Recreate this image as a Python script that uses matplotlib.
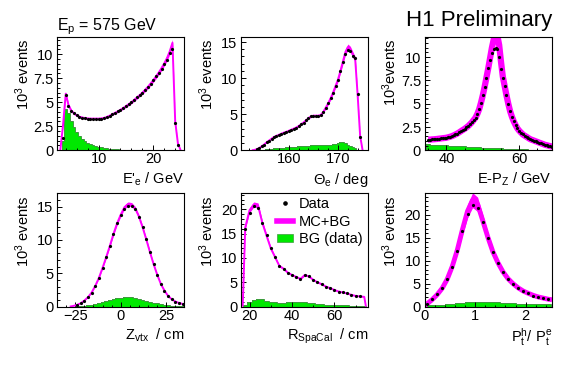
import numpy as np
import matplotlib
matplotlib.use('Agg')
import matplotlib.pyplot as plt
from matplotlib.ticker import AutoMinorLocator, FormatStrFormatter
from matplotlib.lines import Line2D
from matplotlib.patches import Patch

plt.rcParams['font.family'] = ['Liberation Sans', 'DejaVu Sans']
plt.rcParams['mathtext.fontset'] = 'custom'
plt.rcParams['mathtext.rm'] = 'Liberation Sans'
plt.rcParams['mathtext.it'] = 'Liberation Sans'
plt.rcParams['mathtext.default'] = 'rm'

MAGENTA = '#ff00ff'
GREEN = '#00e800'
GREEN_EDGE = '#3f9a3f'

# E'_e spectrum
ee_x = np.arange(3.5, 24.51, 0.5)
ee_data = [1.3, 5.8, 4.6, 4.1, 3.85, 3.65, 3.5, 3.4, 3.35, 3.3,
           3.3, 3.3, 3.28, 3.28, 3.3, 3.35, 3.45, 3.6, 3.75, 3.9,
           4.05, 4.2, 4.4, 4.6, 4.8, 5.0, 5.25, 5.5, 5.75, 6.0,
           6.3, 6.6, 6.95, 7.3, 7.7, 8.1, 8.5, 8.95, 9.45, 10.1,
           10.6, 2.8, 0.5]
ee_mc_x = np.arange(3.0, 25.01, 0.5)
ee_mc = [0.0, 2.6, 5.9, 4.7, 4.15, 3.85, 3.65, 3.5, 3.42, 3.36,
         3.32, 3.3, 3.3, 3.3, 3.3, 3.32, 3.37, 3.47, 3.6, 3.75,
         3.9, 4.05, 4.22, 4.4, 4.6, 4.8, 5.0, 5.25, 5.5, 5.75,
         6.0, 6.3, 6.6, 6.95, 7.3, 7.7, 8.1, 8.55, 9.05, 9.6,
         10.3, 11.2, 3.0, 0.7, 0.0]
ee_bg = [1.0, 4.35, 3.9, 3.0, 2.4, 1.9, 1.5, 1.2, 1.0, 0.8,
         0.65, 0.55, 0.45, 0.38, 0.3, 0.25, 0.2, 0.17, 0.14, 0.11,
         0.09, 0.07, 0.05, 0.04, 0.03, 0.02, 0.01, 0.01, 0.01, 0.01,
         0.01, 0.01, 0.01, 0.01, 0.01, 0.01, 0.01, 0.01, 0.01, 0.01,
         0.01, 0.01, 0.01]

# Theta_e
th_x = np.arange(153.5, 174.51, 0.5)
th_data = [0.15, 0.3, 0.55, 0.8, 1.1, 1.35, 1.6, 1.85, 2.0, 2.15,
           2.3, 2.45, 2.55, 2.7, 2.85, 3.0, 3.15, 3.35, 3.6, 3.85,
           4.15, 4.45, 4.7, 4.8, 4.8, 4.8, 4.9, 5.3, 5.9, 6.5,
           7.2, 8.0, 8.9, 9.8, 11.0, 12.3, 13.3, 13.9, 13.8, 13.1,
           12.8, 7.8, 1.9]
th_mc_x = np.arange(152.5, 175.01, 0.5)
th_mc = [0.0, 0.05, 0.15, 0.3, 0.55, 0.8, 1.1, 1.35, 1.6, 1.85,
         2.0, 2.15, 2.3, 2.45, 2.55, 2.7, 2.85, 3.0, 3.15, 3.35,
         3.6, 3.85, 4.15, 4.45, 4.7, 4.8, 4.8, 4.8, 4.9, 5.3,
         5.9, 6.5, 7.2, 8.0, 8.9, 9.8, 11.0, 12.3, 13.6, 14.3,
         14.0, 13.3, 12.6, 7.6, 2.0, 0.0]
th_bg = [0.02, 0.05, 0.08, 0.1, 0.13, 0.16, 0.2, 0.25, 0.28, 0.32,
         0.35, 0.38, 0.42, 0.45, 0.48, 0.5, 0.52, 0.55, 0.58, 0.6,
         0.63, 0.66, 0.7, 0.72, 0.72, 0.72, 0.72, 0.72, 0.73, 0.75,
         0.78, 0.82, 0.9, 1.0, 1.15, 1.1, 1.0, 0.8, 0.6, 0.4,
         0.25, 0.1, 0.0]

# E-Pz
epz_x = np.arange(35, 70.01, 0.5)
epz_data = [1.15, 1.15, 1.17, 1.18, 1.2, 1.22, 1.25, 1.27, 1.3, 1.32,
            1.35, 1.4, 1.45, 1.52, 1.6, 1.7, 1.8, 1.92, 2.05, 2.18,
            2.3, 2.45, 2.6, 2.8, 3.0, 3.25, 3.5, 3.9, 4.4, 5.1,
            5.9, 6.8, 7.8, 8.8, 9.7, 10.4, 10.9, 11.0, 10.9, 10.0,
            8.7, 7.8, 6.9, 5.9, 5.0, 4.2, 3.6, 3.1, 2.7, 2.35,
            2.1, 1.9, 1.7, 1.57, 1.45, 1.32, 1.2, 1.12, 1.05, 0.97,
            0.9, 0.82, 0.75, 0.68, 0.6, 0.55, 0.5, 0.45, 0.4, 0.35, 0.3]
epz_mc = [1.15, 1.15, 1.17, 1.18, 1.2, 1.22, 1.25, 1.27, 1.3, 1.32,
          1.35, 1.4, 1.45, 1.52, 1.6, 1.7, 1.8, 1.92, 2.05, 2.18,
          2.3, 2.45, 2.6, 2.8, 3.0, 3.25, 3.5, 3.9, 4.4, 5.1,
          5.9, 6.8, 7.8, 8.8, 9.9, 11.0, 11.9, 12.4, 12.3, 11.3,
          9.5, 7.9, 6.9, 5.9, 5.0, 4.2, 3.6, 3.1, 2.7, 2.35,
          2.1, 1.9, 1.7, 1.57, 1.45, 1.32, 1.2, 1.12, 1.05, 0.97,
          0.9, 0.82, 0.75, 0.68, 0.6, 0.55, 0.5, 0.45, 0.4, 0.35, 0.3]
epz_bg_x = np.arange(35, 70.01, 1.0)
epz_bg = [0.65, 0.62, 0.6, 0.57, 0.55, 0.52, 0.5, 0.47, 0.45, 0.43,
          0.42, 0.4, 0.38, 0.36, 0.33, 0.3, 0.28, 0.26, 0.24, 0.22,
          0.2, 0.18, 0.16, 0.15, 0.13, 0.12, 0.1, 0.09, 0.08, 0.06,
          0.05, 0.04, 0.03, 0.02, 0.02, 0.01]

# Z vertex
z_x = np.arange(-24, 34.01, 2)
z_data = [0.25, 0.5, 0.9, 1.4, 2.1, 3.1, 4.3, 5.8, 7.4, 9.1,
          10.9, 12.5, 13.8, 14.7, 15.1, 15.1, 14.6, 13.5, 11.9, 10.1,
          8.2, 6.4, 4.8, 3.4, 2.4, 1.6, 1.1, 0.75, 0.55, 0.4]
z_mc_x = np.arange(-28, 34.01, 2)
z_mc = [0.0, 0.1, 0.25, 0.5, 0.9, 1.4, 2.1, 3.1, 4.3, 5.8,
        7.4, 9.1, 10.9, 12.5, 13.8, 14.9, 15.4, 15.3, 14.7, 13.5,
        11.9, 10.1, 8.2, 6.4, 4.8, 3.4, 2.4, 1.6, 1.1, 0.75,
        0.55, 0.4]
z_bg_x = np.arange(-34, 34.01, 2)
z_bg = [0.0, 0.0, 0.0, 0.0, 0.01, 0.03, 0.05, 0.1, 0.18, 0.28,
        0.4, 0.52, 0.65, 0.8, 0.95, 1.1, 1.25, 1.35, 1.45, 1.5,
        1.45, 1.35, 1.2, 1.05, 0.9, 0.75, 0.6, 0.48, 0.38, 0.3,
        0.22, 0.16, 0.12, 0.08, 0.05]

# R SpaCal
r_x = np.arange(18, 72.01, 2)
r_data = [16.0, 19.3, 20.7, 20.3, 17.1, 14.7, 12.0, 10.3, 8.3, 7.8,
          7.0, 6.5, 6.0, 5.6, 6.6, 6.3, 5.5, 5.0, 4.6, 4.1,
          3.8, 3.4, 3.1, 2.9, 2.7, 2.4, 2.2, 2.1]
r_mc_x = np.r_[16.8, np.arange(18, 74.01, 2), 74.8]
r_mc = [0.0, 16.3, 19.8, 21.0, 20.8, 17.3, 14.6, 12.0, 10.2, 8.4, 7.8,
        7.0, 6.5, 6.1, 5.7, 6.5, 6.2, 5.5, 5.0, 4.6, 4.1,
        3.8, 3.4, 3.1, 2.9, 2.7, 2.4, 2.2, 2.1, 2.0, 0.0]
r_bg_x = np.arange(18, 74.01, 2)
r_bg = [0.4, 0.9, 1.3, 1.5, 1.5, 1.2, 1.0, 0.85, 0.8, 0.8,
        0.85, 0.95, 0.9, 0.85, 0.9, 0.8, 0.65, 0.55, 0.45, 0.4,
        0.35, 0.35, 0.3, 0.3, 0.25, 0.2, 0.2, 0.15, 0.1]

# Pt balance
pt_x = np.arange(0.05, 2.451, 0.1)
pt_data = [0.6, 1.6, 2.7, 4.1, 6.0, 8.7, 12.2, 16.5, 20.1, 22.2,
           21.5, 18.4, 15.0, 11.9, 9.5, 7.5, 6.0, 4.9, 4.0, 3.4,
           2.9, 2.4, 2.0, 1.8, 1.6]
pt_mc_x = np.r_[0.0, np.arange(0.05, 2.451, 0.1), 2.52]
pt_mc = [0.2, 0.6, 1.5, 2.6, 4.0, 6.0, 8.8, 12.4, 16.8, 20.8, 23.2,
         22.3, 18.8, 15.2, 12.0, 9.6, 7.6, 6.1, 5.0, 4.1, 3.4,
         2.9, 2.45, 2.1, 1.85, 1.6, 1.5]
pt_bg = [0.3, 0.35, 0.4, 0.45, 0.55, 0.65, 0.75, 0.85, 0.9, 0.95,
         0.95, 0.95, 0.95, 0.95, 0.9, 0.85, 0.8, 0.7, 0.65, 0.6,
         0.6, 0.55, 0.55, 0.5, 0.5]

W, H = 567, 369


def panel_axes(fig, left, top):
    # pixel box -> figure fraction
    return fig.add_axes([left / W, 1 - (top + 113.3) / H, 127.5 / W, 113.3 / H])


def draw_panel(ax, dx, dy, mx, my, bx, by, rel, lw, xlim, ylim, xticks, yticks,
               xminor, xlabel, ylabel='10$^3$ events'):
    bx = np.asarray(bx, dtype=float)
    w = bx[1] - bx[0]
    edges = np.append(bx - w / 2, bx[-1] + w / 2)
    ax.stairs(by, edges, fill=True, color=GREEN, lw=0)
    ax.stairs(by, edges, color=GREEN_EDGE, lw=0.7, baseline=0)

    my = np.asarray(my)
    ax.fill_between(mx, my * (1 - rel), my * (1 + rel), color=MAGENTA, lw=0)
    ax.plot(mx, my, color=MAGENTA, lw=lw, solid_capstyle='butt')
    ax.plot(dx, dy, 'o', color='black', ms=2.3, mew=0)

    ax.set_xlim(*xlim)
    ax.set_ylim(*ylim)
    ax.set_xticks(xticks)
    ax.set_yticks(yticks)
    ax.yaxis.set_major_formatter(FormatStrFormatter('%g'))
    ax.xaxis.set_minor_locator(AutoMinorLocator(xminor))
    ax.yaxis.set_minor_locator(AutoMinorLocator(5))
    ax.tick_params(which='both', direction='in', labelsize=10.5, width=0.7)
    ax.tick_params(which='major', length=3.5, pad=2.5)
    ax.tick_params(axis='x', which='major', pad=1.5)
    ax.tick_params(which='minor', length=1.8)
    for s in ax.spines.values():
        s.set_linewidth(0.8)

    ax.set_ylabel(ylabel, fontsize=10.5, loc='top')
    ax.yaxis.set_label_coords(-0.2, 0.98)
    ax.set_xlabel(xlabel, fontsize=10.5, loc='right')
    ax.xaxis.set_label_coords(1.0, -0.295)
    ax.xaxis.label.set_va('baseline')


fig = plt.figure(figsize=(W / 100, H / 100), dpi=100)

ax1 = panel_axes(fig, 57, 37)
draw_panel(ax1, ee_x, ee_data, ee_mc_x, ee_mc, ee_x, ee_bg, 0.03, 1.4,
           (2.4, 25.7), (0, 11.8), [10, 20], [0, 2.5, 5, 7.5, 10], 5,
           r"E$'_{e}$ / GeV")

ax2 = panel_axes(fig, 241, 37)
draw_panel(ax2, th_x, th_data, th_mc_x, th_mc, th_x, th_bg, 0.03, 1.4,
           (150.3, 176.2), (0, 15.7), [160, 170], [0, 5, 10, 15], 5,
           r"$\Theta_e$ / deg")

ax3 = panel_axes(fig, 424.5, 37)
draw_panel(ax3, epz_x, epz_data, epz_x, epz_mc, epz_bg_x, epz_bg, 0.04, 4.5,
           (34, 69), (0, 12.16), [40, 60], [0, 2.5, 5, 7.5, 10], 4,
           r"E-P$_Z$ / GeV", ylabel='10$^3$events')

ax4 = panel_axes(fig, 57, 193.3)
draw_panel(ax4, z_x, z_data, z_mc_x, z_mc, z_bg_x, z_bg, 0.02, 1.4,
           (-35, 35), (0, 17), [-25, 0, 25], [0, 5, 10, 15], 5,
           r"Z$_{vtx}$  / cm")

ax5 = panel_axes(fig, 241, 193.3)
draw_panel(ax5, r_x, r_data, r_mc_x, r_mc, r_bg_x, r_bg, 0.025, 1.4,
           (16, 76), (0, 23.3), [20, 40, 60], [0, 5, 10, 15, 20], 2,
           r"R$_{SpaCal}$  / cm")

ax6 = panel_axes(fig, 424.5, 193.3)
draw_panel(ax6, pt_x, pt_data, pt_mc_x, pt_mc, pt_x, pt_bg, 0.07, 3.5,
           (0, 2.52), (0, 24.7), [0, 1, 2], [0, 5, 10, 15, 20], 5,
           r"P$_t^h$/ P$_t^e$")
ax6.xaxis.set_label_coords(1.0, -0.31)

handles = [Line2D([], [], ls='none', marker='o', color='black', ms=2.3),
           Line2D([], [], color=MAGENTA, lw=4),
           Patch(facecolor=GREEN, edgecolor=GREEN_EDGE, lw=0.5)]
ax5.legend(handles, ['Data', 'MC+BG', 'BG (data)'], loc='upper left',
           bbox_to_anchor=(277 / W, 1 - 197 / H), bbox_transform=fig.transFigure,
           frameon=False, fontsize=10.5, handlelength=1.1, handleheight=0.45,
           handletextpad=0.4, labelspacing=0.25, borderpad=0, borderaxespad=0)

fig.text(57 / W, 1 - 30 / H, r"E$_p$ = 575 GeV", fontsize=11.5, va='baseline')
fig.text(552 / W, 1 - 26 / H, "H1 Preliminary", fontsize=16, ha='right', va='baseline')

fig.savefig('out.png', dpi=100)
plt.close(fig)
